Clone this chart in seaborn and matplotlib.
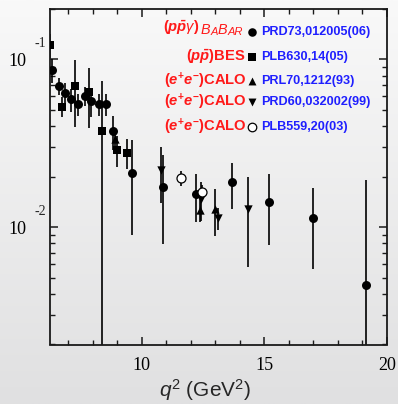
import numpy as np
import pandas as pd
import matplotlib
matplotlib.use("Agg")
import matplotlib.pyplot as plt
import seaborn as sns
from matplotlib.ticker import FixedLocator, MultipleLocator, LogLocator, NullFormatter

# ---- proton time-like form factor |G| vs q^2 ----
babar_q2 = [6.33, 6.60, 6.85, 7.12, 7.40, 7.66, 7.94, 8.24, 8.53, 8.83, 9.58,
            10.87, 12.23, 13.67, 15.20, 17.00, 19.14]
babar_ff = [0.0864, 0.0693, 0.0633, 0.0578, 0.0540, 0.0605, 0.0565, 0.0540, 0.0540,
            0.0374, 0.0210, 0.01746, 0.0157, 0.0185, 0.0142, 0.0114, 0.00454]
babar_err = [0.014, 0.008, 0.009, 0.009, 0.008, 0.008, 0.011, 0.008, 0.008,
             0.0085, 0.012, 0.0095, 0.005, 0.0057, 0.0064, 0.0058, 0.0145]

bes_q2 = [6.25, 6.74, 7.26, 7.83, 8.39, 8.99, 9.40]
bes_ff = [0.122, 0.0522, 0.0693, 0.0641, 0.0374, 0.0288, 0.0278]
bes_err = [0.02, 0.007, 0.030, 0.025, 0.037, 0.006, 0.0055]

e760_q2 = [8.89, 12.38, 12.99]
e760_ff = [0.0333, 0.0127, 0.0128]
e760_err = [0.003, 0.002, 0.004]

e835a_q2 = [10.77, 12.40, 13.10, 14.35]
e835a_ff = [0.0219, 0.0147, 0.0113, 0.0128]
e835a_err = [0.008, 0.0038, 0.0017, 0.007]

e835b_q2 = [11.60, 12.44]
e835b_ff = [0.0196, 0.0163]
e835b_err = [0.002, 0.0015]

exp_names = ["BABAR", "BES", "E760", "E835a", "E835b"]
exp_refs = ["PRD73,012005(06)", "PLB630,14(05)", "PRL70,1212(93)",
            "PRD60,032002(99)", "PLB559,20(03)"]

x_ticks = [10, 15, 20]
x_ticklabels = ["10", "15", "20"]
y_ticks = [0.01, 0.1]
y_ticklabels = ["10", "10"]
y_exponents = ["-2", "-1"]

frames = []
for name, q, f, e in zip(exp_names,
                         [babar_q2, bes_q2, e760_q2, e835a_q2, e835b_q2],
                         [babar_ff, bes_ff, e760_ff, e835a_ff, e835b_ff],
                         [babar_err, bes_err, e760_err, e835a_err, e835b_err]):
    frames.append(pd.DataFrame({"q2": q, "ff": f, "err": e, "exp": name}))
data = pd.concat(frames, ignore_index=True)

style = {
    "BABAR": dict(marker="o", s=42, fc="black"),
    "BES": dict(marker="s", s=36, fc="black"),
    "E760": dict(marker="^", s=36, fc="black"),
    "E835a": dict(marker="v", s=36, fc="black"),
    "E835b": dict(marker="o", s=42, fc="white"),
}

sns.set_theme(style="ticks")
plt.rcParams["mathtext.fontset"] = "custom"
plt.rcParams["mathtext.rm"] = "Liberation Sans"
plt.rcParams["mathtext.it"] = "Liberation Sans:italic"
plt.rcParams["mathtext.bf"] = "Liberation Sans:bold"
plt.rcParams["mathtext.bfit"] = "Liberation Sans:italic:bold"

fig = plt.figure(figsize=(3.98, 4.04), dpi=100)

# soft grey vertical gradient behind everything
bg = fig.add_axes([0, 0, 1, 1], zorder=-10)
grad = np.linspace(0, 1, 256)[:, None]
bg.imshow(grad, aspect="auto", cmap=matplotlib.colors.LinearSegmentedColormap.from_list(
    "bg", ["#f9f9f9", "#e0e0e1"]), extent=[0, 1, 0, 1], origin="upper")
bg.set_axis_off()

W, H = 398, 404
ax = fig.add_axes([50 / W, 1 - 344.5 / H, 336.7 / W, 335.8 / H])
ax.set_facecolor("none")
ax.set_yscale("log")
ax.set_xlim(6.25, 20)
ax.set_ylim(0.002, 0.2)

for name in exp_names:
    sub = data[data["exp"] == name]
    ax.errorbar(sub["q2"], sub["ff"], yerr=sub["err"], fmt="none",
                ecolor="black", elinewidth=1.2, capsize=0, zorder=2)
    st = style[name]
    sns.scatterplot(data=sub, x="q2", y="ff", ax=ax, marker=st["marker"], s=st["s"],
                    color=st["fc"], edgecolor="black", linewidth=0.9 if st["fc"] == "white" else 0,
                    legend=False, zorder=3)

# axes frame and ticks
for sp in ax.spines.values():
    sp.set_linewidth(1.3)
    sp.set_color("#1a1a1a")
ax.xaxis.set_major_locator(FixedLocator(x_ticks))
ax.xaxis.set_minor_locator(MultipleLocator(1))
ax.set_xticklabels(x_ticklabels)
ax.yaxis.set_major_locator(FixedLocator(y_ticks))
ax.yaxis.set_minor_locator(LogLocator(base=10, subs=np.arange(2, 10)))
ax.yaxis.set_minor_formatter(NullFormatter())
ax.set_yticklabels(y_ticklabels)
ax.tick_params(which="both", direction="in", top=True, right=True, colors="#1a1a1a",
               labelcolor="black")
ax.tick_params(which="major", length=6, width=1.1)
ax.tick_params(which="minor", length=3.5, width=1.0)
ax.tick_params(axis="x", which="major", pad=9)
ax.tick_params(axis="y", which="major", pad=17)
for lab in ax.get_xticklabels() + ax.get_yticklabels():
    lab.set_fontfamily("Liberation Serif")
    lab.set_fontsize(13)
ax.set_xlabel("")
ax.set_ylabel("")

# exponents on the decade labels
ytrans = ax.get_yaxis_transform()
for val, ex in zip(y_ticks, y_exponents):
    ax.annotate(ex, xy=(0, val), xycoords=ytrans, xytext=(-2.5, 11), textcoords="offset points",
                ha="right", va="center", fontsize=10, family="Liberation Serif",
                annotation_clip=False)

fig.text(205 / W, 1 - 390 / H, r"$q^2$ (GeV$^2$)", ha="center", va="center",
         fontsize=15, family="Liberation Sans")

# key: red process label, marker, blue reference
red = "#ff1a1a"
blue = "#1f1fff"
row_y = [0.9297, 0.857, 0.7856, 0.7213, 0.6487]
mx, red_x, blue_x = 0.600, 0.580, 0.626
fs = 9.1
rfs = 10.6
for yy, name, ref in zip(row_y, exp_names, exp_refs):
    st = style[name]
    ax.scatter([mx], [yy], transform=ax.transAxes, marker=st["marker"], s=st["s"] * 0.9,
               c=st["fc"], edgecolors="black", linewidths=0.9 if st["fc"] == "white" else 0,
               clip_on=False, zorder=4)
    ax.text(blue_x, yy, ref, transform=ax.transAxes, ha="left", va="center",
            color=blue, fontsize=fs, fontweight="bold", family="Liberation Sans")

calo = r"$\mathbf{(}\mathbfit{e}^{\mathbf{+}}\mathbfit{e}^{\mathbf{-}}\mathbf{)CALO}$"
for yy in row_y[2:]:
    ax.text(red_x + 0.003, yy, calo, transform=ax.transAxes, ha="right", va="center",
            color=red, fontsize=rfs)
ax.text(red_x, row_y[1], r"$\mathbf{(}\mathbfit{p\bar{p}}\mathbf{)BES}$", transform=ax.transAxes,
        ha="right", va="center", color=red, fontsize=rfs)

# BaBar in small capitals, assembled right to left
t = ax.text(red_x - 0.008, row_y[0] - 0.015, "AR", transform=ax.transAxes, ha="right",
            va="bottom", color=red, fontsize=8.0, style="italic", family="Liberation Sans")
for piece, size in [("B", 10.4), ("A", 8.0), ("B", 10.4)]:
    t = ax.annotate(piece, xy=(0, 0), xycoords=t, ha="right", va="bottom", color=red,
                    fontsize=size, style="italic", family="Liberation Sans")
ax.annotate(r"$\mathbf{(}\mathbfit{p\bar{p}}\gamma\mathbf{)}$", xy=(0, 0), xycoords=t,
            xytext=(-1, 0), textcoords="offset points", ha="right", va="bottom",
            color=red, fontsize=rfs)

fig.savefig("out.png", dpi=100)
